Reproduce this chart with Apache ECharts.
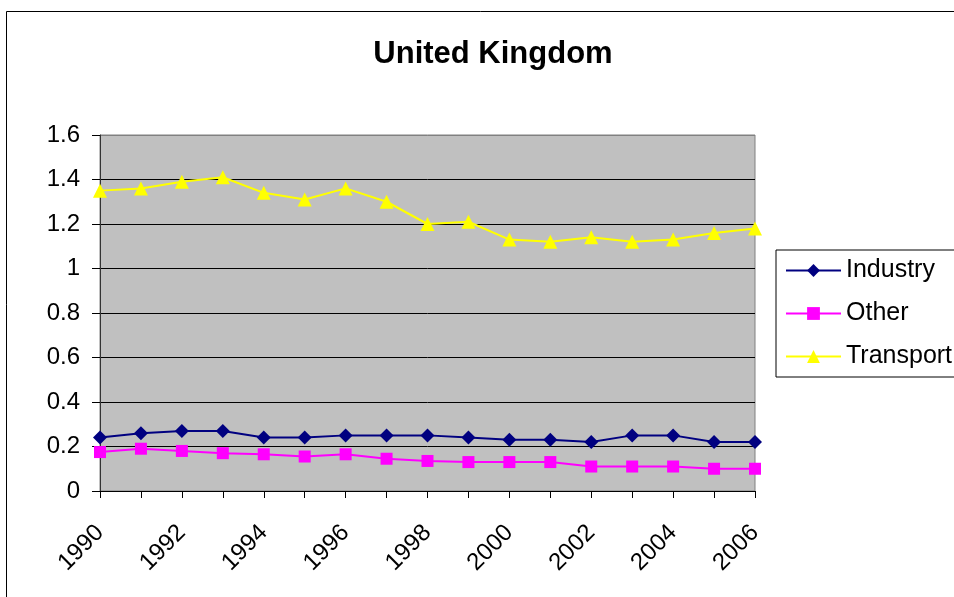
<!DOCTYPE html>
<html>
<head>
<meta charset="utf-8">
<script src="https://cdn.jsdelivr.net/npm/echarts@6/dist/echarts.min.js"></script>
<style>
  html, body { margin: 0; padding: 0; background: #fff; }
  #chart { width: 954px; height: 597px; }
</style>
</head>
<body>
<div id="chart"></div>
<script>
// years on the x axis
const years = ['1990', '1991', '1992', '1993', '1994', '1995', '1996', '1997', '1998',
  '1999', '2000', '2001', '2002', '2003', '2004', '2005', '2006'];

// series values
const industry = [0.24, 0.26, 0.27, 0.27, 0.24, 0.24, 0.25, 0.25, 0.25,
  0.24, 0.23, 0.23, 0.22, 0.25, 0.25, 0.22, 0.22];
const other = [0.175, 0.19, 0.18, 0.17, 0.165, 0.155, 0.165, 0.145, 0.135,
  0.13, 0.13, 0.13, 0.11, 0.11, 0.11, 0.10, 0.10];
const transport = [1.35, 1.36, 1.39, 1.41, 1.34, 1.31, 1.36, 1.30, 1.20,
  1.21, 1.13, 1.12, 1.14, 1.12, 1.13, 1.16, 1.18];

const font = '"Liberation Sans", Arial, sans-serif';

const makeLine = (name, data, color, symbol, size) => ({
  name: name,
  type: 'line',
  data: data,
  symbol: symbol,
  symbolSize: size,
  showAllSymbol: true,
  lineStyle: { color: color, width: 2 },
  itemStyle: { color: color },
  emphasis: { disabled: true },
  animation: false
});

const chart = echarts.init(document.getElementById('chart'));
chart.setOption({
  backgroundColor: '#fff',
  animation: false,
  title: {
    text: 'United Kingdom',
    left: 488,
    top: 34,
    textAlign: 'center',
    textStyle: { fontFamily: font, fontSize: 31, fontWeight: 'bold', color: '#000' }
  },
  // outer chart border, only left and top edges are visible
  graphic: [{
    type: 'rect',
    shape: { x: 6.5, y: 11.5, width: 1200, height: 1200 },
    style: { fill: 'none', stroke: '#000', lineWidth: 1 },
    silent: true,
    z: -1
  }],
  legend: {
    orient: 'vertical',
    left: 776,
    top: 250,
    padding: [8, 30, 8, 9],
    itemGap: 18,
    itemWidth: 55,
    itemHeight: 16,
    borderColor: '#000',
    borderWidth: 1,
    backgroundColor: '#fff',
    textStyle: { fontFamily: font, fontSize: 25, color: '#000' },
    data: ['Industry', 'Other', 'Transport']
  },
  grid: {
    left: 100,
    right: 199,
    top: 135,
    bottom: 106,
    show: true,
    backgroundColor: '#c0c0c0',
    borderColor: '#808080',
    borderWidth: 1
  },
  xAxis: {
    type: 'category',
    data: years,
    boundaryGap: false,
    axisLine: { lineStyle: { color: '#000', width: 1 } },
    axisTick: { show: true, interval: 0, length: 7, lineStyle: { color: '#000' } },
    axisLabel: {
      interval: 1,
      rotate: 45,
      margin: 38,
      color: '#000',
      fontFamily: font,
      fontSize: 24
    },
    splitLine: { show: false }
  },
  yAxis: {
    type: 'value',
    min: 0,
    max: 1.6,
    interval: 0.2,
    axisLine: { show: true, lineStyle: { color: '#333', width: 1 } },
    axisTick: { show: true, length: 8, lineStyle: { color: '#000' } },
    axisLabel: {
      margin: 20,
      color: '#000',
      fontFamily: font,
      fontSize: 24
    },
    splitLine: {
      show: true,
      lineStyle: {
        color: ['#000', '#000', '#000', '#000', '#000', '#000', '#000', '#000', '#808080'],
        width: 1
      }
    }
  },
  series: [
    makeLine('Industry', industry, '#000080', 'diamond', 14),
    makeLine('Other', other, '#ff00ff', 'rect', 12),
    makeLine('Transport', transport, '#ffff00', 'triangle', 14)
  ]
});
</script>
</body>
</html>
